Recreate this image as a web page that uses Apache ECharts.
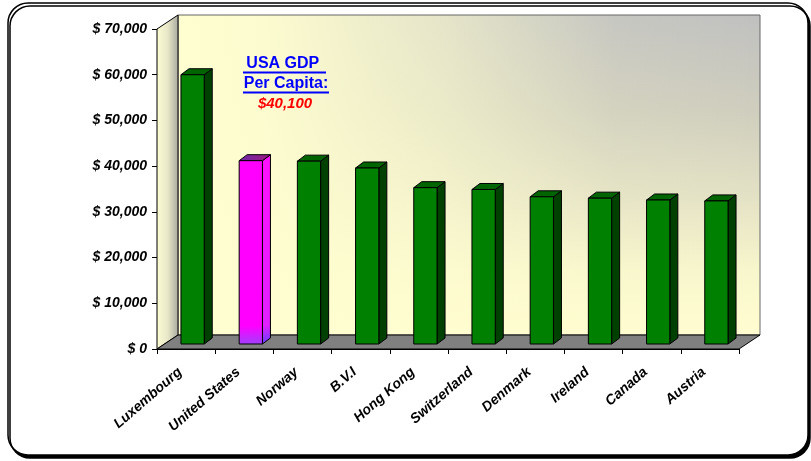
<!DOCTYPE html>
<html>
<head>
<meta charset="utf-8">
<script src="https://cdn.jsdelivr.net/npm/echarts@6/dist/echarts.min.js"></script>
<style>
  html, body { margin: 0; padding: 0; background: #fff; }
  #chart { width: 811px; height: 461px; }
</style>
</head>
<body>
<div id="chart"></div>
<script>
  // GDP per capita
  var countries = ['Luxembourg', 'United States', 'Norway', 'B.V.I', 'Hong Kong',
                   'Switzerland', 'Denmark', 'Ireland', 'Canada', 'Austria'];
  var gdp = [58900, 40100, 40000, 38500, 34200, 33800, 32200, 31900, 31500, 31300];
  var yTicks = [0, 10000, 20000, 30000, 40000, 50000, 60000, 70000];
  var highlight = 'United States';

  var FONT = 'Liberation Sans, Arial, sans-serif';
  var DX = 21, DY = -14; // depth of the 3d box

  var myChart = echarts.init(document.getElementById('chart'));

  function fmtMoney(v) {
    return '$ ' + String(v).replace(/\B(?=(\d{3})+(?!\d))/g, ',');
  }

  // walls and floor of the 3d box
  function renderWalls(params, api) {
    var cs = params.coordSys;
    var x = cs.x, y = cs.y, w = cs.width, h = cs.height;
    var wall = { x: x + DX, y: y + DY, width: w, height: h };
    return {
      type: 'group',
      children: [
        {
          type: 'rect', shape: wall,
          style: {
            fill: {
              type: 'linear', x: 0, y: 0, x2: 0, y2: 1,
              colorStops: [
                { offset: 0, color: '#c0c0c0' },
                { offset: 0.3, color: '#cfcebe' },
                { offset: 0.55, color: '#e2e0c4' },
                { offset: 0.8, color: '#f8f6cc' },
                { offset: 1, color: '#fffdd0' }
              ]
            }
          }
        },
        {
          type: 'rect', shape: wall,
          style: {
            fill: {
              type: 'linear', x: 0, y: 0, x2: 1, y2: 0,
              colorStops: [
                { offset: 0, color: 'rgba(255,254,208,1)' },
                { offset: 0.15, color: 'rgba(255,254,208,0.95)' },
                { offset: 0.45, color: 'rgba(255,254,208,0.6)' },
                { offset: 0.75, color: 'rgba(255,254,208,0.1)' },
                { offset: 1, color: 'rgba(255,254,208,0)' }
              ]
            },
            stroke: '#666', lineWidth: 1
          }
        },
        {
          type: 'polygon',
          shape: { points: [[x, y], [x + DX, y + DY], [x + DX, y + h + DY], [x, y + h]] },
          style: {
            fill: {
              type: 'linear', x: 0, y: 0, x2: 1, y2: 0,
              colorStops: [
                { offset: 0, color: '#fcfcd4' },
                { offset: 0.5, color: '#e8e8c8' },
                { offset: 1, color: '#a8a8a0' }
              ]
            },
            stroke: '#000', lineWidth: 1
          }
        },
        {
          type: 'polygon',
          shape: { points: [[x, y + h], [x + DX, y + h + DY], [x + w + DX, y + h + DY], [x + w, y + h]] },
          style: { fill: '#808080', stroke: '#000', lineWidth: 1 }
        }
      ]
    };
  }

  function renderBar(params, api) {
    var idx = api.value(0), val = api.value(1);
    var top = api.coord([idx, val]);
    var base = api.coord([idx, 0]);
    var band = api.size([1, 0])[0];
    var w = band * 0.4;
    var sx = 6.5, sy = -5, dx = 8, dy = -6;
    var x0 = top[0] + sx - w / 2, x1 = x0 + w;
    var yt = top[1] + sy, yb = base[1] + sy;
    var hot = countries[idx] === highlight;
    var front = hot ? {
      type: 'linear', x: 0, y: 0, x2: 0.2, y2: 1,
      colorStops: [{ offset: 0, color: '#ff00ff' }, { offset: 0.9, color: '#ff00ff' }, { offset: 1, color: '#a040ff' }]
    } : '#008000';
    var side = hot ? {
      type: 'linear', x: 0, y: 0, x2: 0, y2: 1,
      colorStops: [{ offset: 0, color: '#ff10ff' }, { offset: 0.9, color: '#e020ff' }, { offset: 1, color: '#6040ff' }]
    } : '#004000';
    var topc = hot ? {
      type: 'linear', x: 0, y: 0, x2: 1, y2: 0,
      colorStops: [{ offset: 0, color: '#6a2aa8' }, { offset: 1, color: '#a01880' }]
    } : '#006400';
    var st = { stroke: '#000', lineWidth: 1 };
    return {
      type: 'group',
      children: [
        { type: 'polygon', shape: { points: [[x1, yb], [x1 + dx, yb + dy], [x1 + dx, yt + dy], [x1, yt]] },
          style: Object.assign({ fill: side }, st) },
        { type: 'polygon', shape: { points: [[x0, yt], [x1, yt], [x1 + dx, yt + dy], [x0 + dx, yt + dy]] },
          style: Object.assign({ fill: topc }, st) },
        { type: 'rect', shape: { x: x0, y: yt, width: w, height: yb - yt },
          style: Object.assign({ fill: front }, st) }
      ]
    };
  }

  myChart.setOption({
    animation: false,
    backgroundColor: '#fff',
    graphic: [
      {
        type: 'rect', z: -10, silent: true,
        shape: { x: 8, y: 3, width: 800, height: 452, r: 20 },
        style: { fill: '#fff', stroke: '#000', lineWidth: 1.5,
                 shadowColor: '#000', shadowOffsetX: 2, shadowOffsetY: 3, shadowBlur: 0 }
      },
      { type: 'text', z: 100, x: 285, y: 64,
        style: { text: 'USA GDP ', font: 'bold 16px ' + FONT, fill: '#0000ff', align: 'center', verticalAlign: 'middle' } },
      { type: 'line', z: 100, shape: { x1: 243, y1: 72.5, x2: 326, y2: 72.5 }, style: { stroke: '#0000ff', lineWidth: 2 } },
      { type: 'text', z: 100, x: 286, y: 84,
        style: { text: 'Per Capita:', font: 'bold 16px ' + FONT, fill: '#0000ff', align: 'center', verticalAlign: 'middle' } },
      { type: 'line', z: 100, shape: { x1: 243, y1: 92.5, x2: 329, y2: 92.5 }, style: { stroke: '#0000ff', lineWidth: 2 } },
      { type: 'text', z: 100, x: 285, y: 104,
        style: { text: '$40,100', font: 'italic bold 15px ' + FONT, fill: '#ff0000', align: 'center', verticalAlign: 'middle' } }
    ],
    grid: { left: 157, top: 29, width: 582, height: 320 },
    xAxis: {
      type: 'category',
      data: countries,
      axisLine: { show: true, lineStyle: { color: '#000', width: 1 } },
      axisTick: { show: true, length: 5, lineStyle: { color: '#000' } },
      axisLabel: {
        rotate: 41, margin: 16, interval: 0, padding: [0, 8, 0, 0],
        fontFamily: FONT, fontSize: 14, fontWeight: 'bold', fontStyle: 'italic', color: '#000'
      },
      splitLine: { show: false }
    },
    yAxis: {
      type: 'value',
      min: yTicks[0], max: yTicks[yTicks.length - 1], interval: 10000,
      axisLine: { show: true, lineStyle: { color: '#000', width: 1 } },
      axisTick: { show: true, length: 5, lineStyle: { color: '#000' } },
      axisLabel: {
        formatter: fmtMoney, margin: 10,
        fontFamily: FONT, fontSize: 14, fontWeight: 'bold', fontStyle: 'italic', color: '#000'
      },
      splitLine: { show: false }
    },
    series: [
      {
        type: 'custom', name: 'box', silent: true, z: 1,
        renderItem: renderWalls,
        data: [[0, 0]]
      },
      {
        type: 'custom', name: 'GDP per capita', z: 2,
        renderItem: renderBar,
        encode: { x: 0, y: 1 },
        data: gdp.map(function (v, i) { return [i, v]; })
      }
    ]
  });
</script>
</body>
</html>
